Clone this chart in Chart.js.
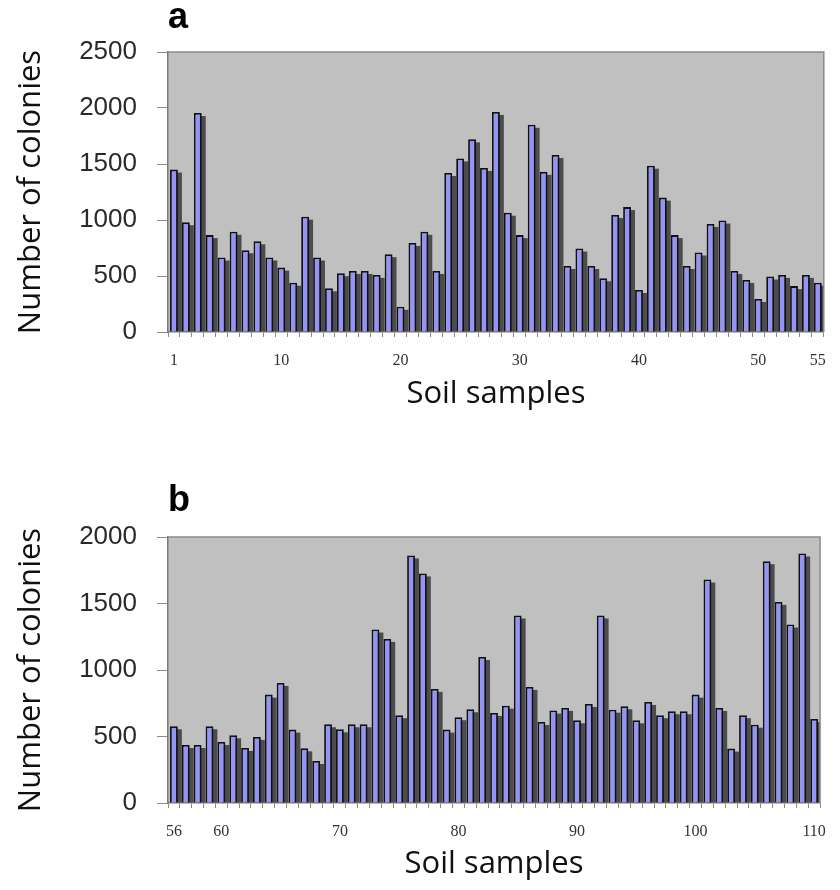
<!DOCTYPE html>
<html>
<head>
<meta charset="utf-8">
<script src="https://cdn.jsdelivr.net/npm/chart.js@4"></script>
<style>
  body { margin: 0; background: #fff; }
  .panel { width: 840px; height: 445px; }
  canvas { display: block; }
</style>
</head>
<body>
<div class="panel"><canvas id="chartA" width="840" height="445"></canvas></div>
<div class="panel"><canvas id="chartB" width="840" height="445"></canvas></div>
<script>
// panel a: soil samples 1-55
const samplesA = [1, 2, 3, 4, 5, 6, 7, 8, 9, 10, 11, 12, 13, 14, 15, 16, 17, 18, 19, 20,
  21, 22, 23, 24, 25, 26, 27, 28, 29, 30, 31, 32, 33, 34, 35, 36, 37, 38, 39, 40,
  41, 42, 43, 44, 45, 46, 47, 48, 49, 50, 51, 52, 53, 54, 55];
const coloniesA = [1450, 980, 1955, 865, 665, 895, 730, 810, 665, 575, 440, 1030, 665, 390, 525,
  545, 545, 510, 695, 225, 795, 895, 545, 1420, 1550, 1720, 1465, 1965, 1065, 865,
  1850, 1430, 1580, 590, 745, 590, 480, 1045, 1115, 375, 1485, 1200, 865, 590, 710,
  965, 995, 545, 465, 295, 495, 510, 410, 510, 440];
const tickLabelsA = [1, 10, 20, 30, 40, 50, 55];

// panel b: soil samples 56-110
const samplesB = [56, 57, 58, 59, 60, 61, 62, 63, 64, 65, 66, 67, 68, 69, 70, 71, 72, 73, 74, 75,
  76, 77, 78, 79, 80, 81, 82, 83, 84, 85, 86, 87, 88, 89, 90, 91, 92, 93, 94, 95,
  96, 97, 98, 99, 100, 101, 102, 103, 104, 105, 106, 107, 108, 109, 110];
const coloniesB = [577, 436, 436, 577, 459, 509, 414, 497, 815, 903, 552, 411, 316, 592, 554,
  592, 592, 1304, 1234, 660, 1861, 1726, 858, 552, 645, 705, 1098, 677, 732, 1410,
  873, 609, 695, 715, 622, 745, 1410, 702, 727, 622, 760, 660, 690, 690, 815,
  1680, 715, 409, 660, 589, 1818, 1512, 1342, 1876, 632];
const tickLabelsB = [56, 60, 70, 80, 90, 100, 110];

// grey plot area, bar shadows and the frame around the plot
const plotArea = {
  id: 'plotArea',
  beforeDraw(chart) {
    const { ctx, chartArea: a } = chart;
    ctx.save();
    ctx.fillStyle = '#c0c0c0';
    ctx.fillRect(a.left, a.top, a.right - a.left, a.bottom - a.top);
    ctx.restore();
  },
  beforeDatasetsDraw(chart) {
    const { ctx, chartArea: a } = chart;
    ctx.save();
    ctx.beginPath();
    ctx.rect(a.left, a.top, a.right - a.left, a.bottom - a.top);
    ctx.clip();
    ctx.fillStyle = '#4c4c4c';
    chart.getDatasetMeta(0).data.forEach(bar => {
      const top = Math.min(bar.y, bar.base) + 3;
      ctx.fillRect(bar.x - bar.width / 2 + 4, top, bar.width, bar.base - top);
    });
    ctx.restore();
  },
  afterDraw(chart) {
    const { ctx, chartArea: a } = chart;
    ctx.save();
    ctx.strokeStyle = '#8a8a8a';
    ctx.lineWidth = 1.5;
    ctx.beginPath();
    ctx.moveTo(a.left, a.top);
    ctx.lineTo(a.right, a.top);
    ctx.lineTo(a.right, a.bottom);
    ctx.stroke();
    ctx.restore();
  }
};

function makeChart(id, panel, labels, values, ticks, yMax, opts) {
  return new Chart(document.getElementById(id), {
    type: 'bar',
    data: {
      labels,
      datasets: [{
        data: values,
        backgroundColor: '#9494f6',
        borderColor: '#111',
        borderWidth: 1.8,
        categoryPercentage: 1,
        barPercentage: 0.66
      }]
    },
    options: {
      responsive: false,
      animation: false,
      layout: { padding: { left: 0, right: opts.right, top: 0, bottom: 0 } },
      plugins: {
        legend: { display: false },
        tooltip: { enabled: false },
        title: {
          display: true,
          text: panel,
          align: 'start',
          fullSize: false,
          color: '#000',
          font: { family: 'Liberation Sans, Arial', weight: 'bold', size: 36, lineHeight: 1 },
          padding: { top: opts.titleTop, bottom: opts.titleBottom }
        }
      },
      scales: {
        x: {
          grid: { drawOnChartArea: false, drawTicks: true, tickLength: 5, color: '#8a8a8a', offset: true },
          border: { display: true, color: '#7a7a7a', width: 1.5 },
          ticks: {
            autoSkip: false,
            maxRotation: 0,
            padding: 14,
            color: '#333',
            font: { family: 'Liberation Serif, Times New Roman', size: 16 },
            callback: (v, i) => ticks.includes(labels[i]) ? String(labels[i]) : ''
          },
          title: {
            display: true,
            text: 'Soil samples',
            color: '#111',
            font: { family: 'Open Sans', size: 31 },
            padding: { top: 0, bottom: opts.xTitleBottom }
          },
          afterFit: s => { s.height = opts.xHeight; }
        },
        y: {
          min: 0,
          max: yMax,
          grid: { drawOnChartArea: false, drawTicks: true, tickLength: 11, color: '#8a8a8a' },
          border: { display: true, color: '#7a7a7a', width: 1.5 },
          ticks: {
            stepSize: 500,
            padding: 20,
            color: '#2a2a2a',
            font: { family: 'Liberation Sans, Arial', size: 26 },
            callback: v => String(v)
          },
          title: {
            display: true,
            text: 'Number of colonies',
            color: '#111',
            font: { family: 'Open Sans', size: 31 },
            padding: { top: 13, bottom: 0 }
          },
          afterFit: s => { s.width = 168; }
        }
      }
    },
    plugins: [plotArea]
  });
}

makeChart('chartA', 'a', samplesA, coloniesA, tickLabelsA, 2500,
  { right: 16, titleTop: 0, titleBottom: 16, xHeight: 113, xTitleBottom: 32 });
makeChart('chartB', 'b', samplesB, coloniesB, tickLabelsB, 2000,
  { right: 17, titleTop: 38, titleBottom: 18, xHeight: 87, xTitleBottom: 7 });
</script>
</body>
</html>
